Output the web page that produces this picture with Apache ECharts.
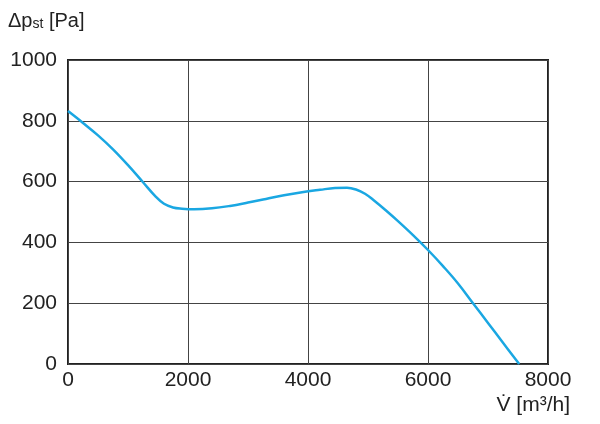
<!DOCTYPE html>
<html>
<head>
<meta charset="utf-8">
<script src="https://cdn.jsdelivr.net/npm/echarts@6/dist/echarts.min.js"></script>
<style>
  html, body { margin: 0; padding: 0; background: #fff; }
  #chart { width: 600px; height: 424px; }
</style>
</head>
<body>
<div id="chart"></div>
<script>
// volume flow [m3/h] and static pressure [Pa]
const flow = [0, 250, 500, 750, 1000, 1250, 1450, 1600, 1750, 1900, 2100, 2400, 2700, 3000, 3300, 3600, 3900, 4200, 4450, 4650, 4800, 4950, 5100, 5300, 5500, 5750, 6000, 6250, 6500, 6750, 7000, 7250, 7520];
const pressure = [832, 793, 752, 706, 654, 598, 553, 527, 515, 511, 509, 512, 520, 531, 543, 555, 565, 573, 579, 580, 574, 560, 538, 505, 470, 424, 375, 322, 265, 200, 135, 70, 0];

const fontFam = '"Liberation Sans", Arial, sans-serif';

const chart = echarts.init(document.getElementById('chart'));
chart.setOption({
    animation: false,
    title: {
        text: 'Δp{sub|st} [Pa]',
        left: 3,
        top: 6,
        textStyle: {
            fontFamily: fontFam,
            fontSize: 20,
            fontWeight: 'normal',
            color: '#222',
            rich: {
                sub: { fontFamily: fontFam, fontSize: 14, color: '#222', padding: [6, 0, 0, 0] }
            }
        }
    },
    graphic: [{
        type: 'text',
        right: 30,
        top: 395,
        style: {
            text: 'V̇ [m³/h]',
            font: '21px ' + fontFam,
            fill: '#222'
        }
    }],
    grid: {
        left: 68,
        right: 52,
        top: 60,
        bottom: 60,
        show: true,
        borderColor: '#222',
        borderWidth: 2
    },
    xAxis: {
        type: 'value',
        min: 0,
        max: 8000,
        interval: 2000,
        axisLine: { show: false },
        axisTick: { show: false },
        axisLabel: { fontFamily: fontFam, fontSize: 21, color: '#222', margin: 6, formatter: v => String(v) },
        splitLine: { show: true, lineStyle: { color: '#444', width: 1 } }
    },
    yAxis: {
        type: 'value',
        min: 0,
        max: 1000,
        interval: 200,
        axisLine: { show: false },
        axisTick: { show: false },
        axisLabel: { fontFamily: fontFam, fontSize: 21, color: '#222', margin: 11, formatter: v => String(v) },
        splitLine: { show: true, lineStyle: { color: '#444', width: 1 } }
    },
    series: [{
        type: 'line',
        data: flow.map((v, i) => [v, pressure[i]]),
        smooth: 0.4,
        showSymbol: false,
        lineStyle: { color: '#1aa7e2', width: 2.5 }
    }]
});
</script>
</body>
</html>
